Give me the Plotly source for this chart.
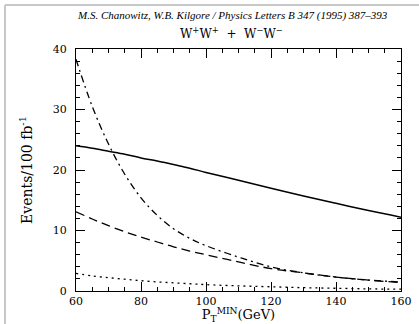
import plotly.graph_objects as go

pt = [60, 65, 70, 75, 80, 85, 90, 95, 100, 110, 120, 130, 140, 150, 160]
solid = [24.0, 23.6, 23.1, 22.6, 22.0, 21.5, 20.9, 20.3, 19.6, 18.3, 17.0, 15.7, 14.5, 13.3, 12.2]
dashdot = [38.3, 30.5, 24.3, 19.3, 15.4, 12.5, 10.3, 8.7, 7.5, 5.6, 4.0, 3.0, 2.3, 1.8, 1.5]
dashed = [13.1, 11.9, 10.8, 9.8, 8.9, 8.1, 7.3, 6.6, 6.0, 4.8, 3.7, 3.0, 2.3, 1.8, 1.4]
dotted = [2.9, 2.5, 2.2, 1.95, 1.7, 1.5, 1.35, 1.2, 1.05, 0.85, 0.7, 0.55, 0.45, 0.35, 0.3]

x_ticks = [60, 80, 100, 120, 140, 160]
y_ticks = [0, 10, 20, 30, 40]

fig = go.Figure()
fig.add_trace(go.Scatter(x=pt, y=solid, mode="lines", line=dict(color="black", width=1.5), line_shape="spline"))
fig.add_trace(go.Scatter(x=pt, y=dashdot, mode="lines", line=dict(color="black", width=1.3, dash="7px,4px,2px,4px"), line_shape="spline"))
fig.add_trace(go.Scatter(x=pt, y=dashed, mode="lines", line=dict(color="black", width=1.3, dash="9px,5px"), line_shape="spline"))
fig.add_trace(go.Scatter(x=pt, y=dotted, mode="lines", line=dict(color="black", width=1.3, dash="2px,4px"), line_shape="spline"))

axis_font = dict(family="DejaVu Serif", size=11, color="black")
fig.update_xaxes(range=[60, 160], tickvals=x_ticks, ticks="inside", ticklen=9, tickwidth=1.2,
                 tickcolor="black", showline=True, linecolor="black", linewidth=1.3, mirror="ticks",
                 showgrid=False, zeroline=False, tickfont=axis_font, automargin=False,
                 minor=dict(dtick=5, tick0=60, ticks="inside", ticklen=4, tickcolor="black", showgrid=False),
                 title=dict(text="P<sub>T</sub><sup>MIN</sup>(GeV)", font=dict(family="DejaVu Serif", size=13, color="black"), standoff=0))
fig.update_yaxes(range=[0, 40], tickvals=y_ticks, ticks="inside", ticklen=9, tickwidth=1.2,
                 tickcolor="black", showline=True, linecolor="black", linewidth=1.3, mirror="ticks",
                 showgrid=False, zeroline=False, tickfont=axis_font, automargin=False, ticklabelstandoff=6,
                 minor=dict(dtick=2, tick0=0, ticks="inside", ticklen=4, tickcolor="black", showgrid=False),
                 title=dict(text="Events/100 fb<sup>-1</sup>", font=dict(family="DejaVu Serif", size=14, color="black"), standoff=16))

fig.update_layout(
    width=419, height=324,
    margin=dict(l=76, r=18, t=49, b=33, autoexpand=False),
    paper_bgcolor="white", plot_bgcolor="white",
    showlegend=False,
    annotations=[
        dict(text="<i>M.S. Chanowitz, W.B. Kilgore / Physics Letters B 347 (1995) 387–393</i>",
             xref="paper", x=(232 - 76) / 325, y=(291 - 15) / 242, yref="paper", showarrow=False,
             font=dict(family="Liberation Serif", size=11, color="black"), xanchor="center", yanchor="middle"),
        dict(text="W<sup>+</sup>W<sup>+</sup>  +  W<sup>−</sup>W<sup>−</sup>",
             xref="paper", x=(231 - 76) / 325, y=(291 - 33) / 242, yref="paper", showarrow=False,
             font=dict(family="DejaVu Serif", size=12, color="black"), xanchor="center", yanchor="middle"),
    ],
    shapes=[
        dict(type="line", xref="paper", yref="paper", x0=(5 - 76) / 325, x1=(419 - 76) / 325,
             y0=(291 - 5) / 242, y1=(291 - 5) / 242, line=dict(color="#c8c8c8", width=2)),
        dict(type="line", xref="paper", yref="paper", x0=(5 - 76) / 325, x1=(5 - 76) / 325,
             y0=(291 - 5) / 242, y1=(291 - 330) / 242, line=dict(color="#c8c8c8", width=2)),
    ],
)

fig.write_html("out.html", config={"displayModeBar": False},
               post_script="document.body.style.margin='0';document.body.style.padding='0';")
